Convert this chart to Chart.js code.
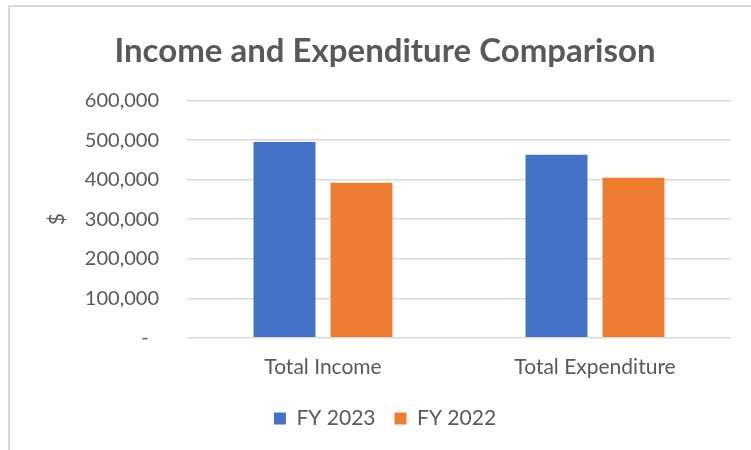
<!DOCTYPE html>
<html>
<head>
<meta charset="utf-8">
<script src="https://cdn.jsdelivr.net/npm/chart.js@4"></script>
<style>
  body { margin: 0; background: #fff; }
  #wrap { position: relative; width: 751px; height: 450px; }
  #frame { position: absolute; left: 8px; top: 5px; right: -4px; bottom: -4px;
           border-top: 2px solid #d9d9d9; border-left: 2px solid #d9d9d9; }
  canvas { position: absolute; left: 0; top: 0; }
</style>
</head>
<body>
<div id="wrap">
  <div id="frame"></div>
  <canvas id="chart" width="751" height="450"></canvas>
</div>
<script>
const categories = ['Total Income', 'Total Expenditure'];
const fy2023 = [495000, 463000];
const fy2022 = [392000, 405000];
const yTicks = [0, 100000, 200000, 300000, 400000, 500000, 600000];

const textColor = '#595959';
const fontFamily = 'Lato, "Open Sans", sans-serif';

const ctx = document.getElementById('chart').getContext('2d');
new Chart(ctx, {
  type: 'bar',
  data: {
    labels: categories,
    datasets: [
      { label: 'FY 2023', data: fy2023, backgroundColor: '#4472c4' },
      { label: 'FY 2022', data: fy2022, backgroundColor: '#ed7d31' }
    ]
  },
  options: {
    responsive: false,
    animation: false,
    barPercentage: 0.805,
    categoryPercentage: 0.566,
    layout: { padding: { left: 39, right: 20, top: 0, bottom: 11 } },
    plugins: {
      title: {
        display: true,
        text: 'Income and Expenditure Comparison',
        color: textColor,
        font: { family: fontFamily, size: 33, weight: 'bold' },
        padding: { top: 32, bottom: 29 }
      },
      legend: {
        position: 'bottom',
        labels: {
          color: textColor,
          font: { family: fontFamily, size: 21 },
          boxWidth: 12,
          boxHeight: 12,
          padding: 19
        }
      },
      tooltip: { enabled: false }
    },
    scales: {
      x: {
        grid: { display: false },
        border: { display: false },
        ticks: {
          color: textColor,
          font: { family: fontFamily, size: 21 },
          padding: 9
        }
      },
      y: {
        min: 0,
        max: 600000,
        afterBuildTicks: scale => { scale.ticks = yTicks.map(v => ({ value: v })); },
        afterFit: scale => { scale.width = 148; },
        grid: { color: '#d9d9d9', lineWidth: 1.5, drawTicks: false },
        border: { display: false },
        ticks: {
          color: textColor,
          font: { family: fontFamily, size: 20 },
          padding: 28,
          callback: v => v === 0 ? '-  ' : v.toLocaleString('en-US')
        },
        title: {
          display: true,
          text: '$',
          color: textColor,
          font: { family: fontFamily, size: 21 },
          padding: { top: 6 }
        }
      }
    }
  }
});
</script>
</body>
</html>
